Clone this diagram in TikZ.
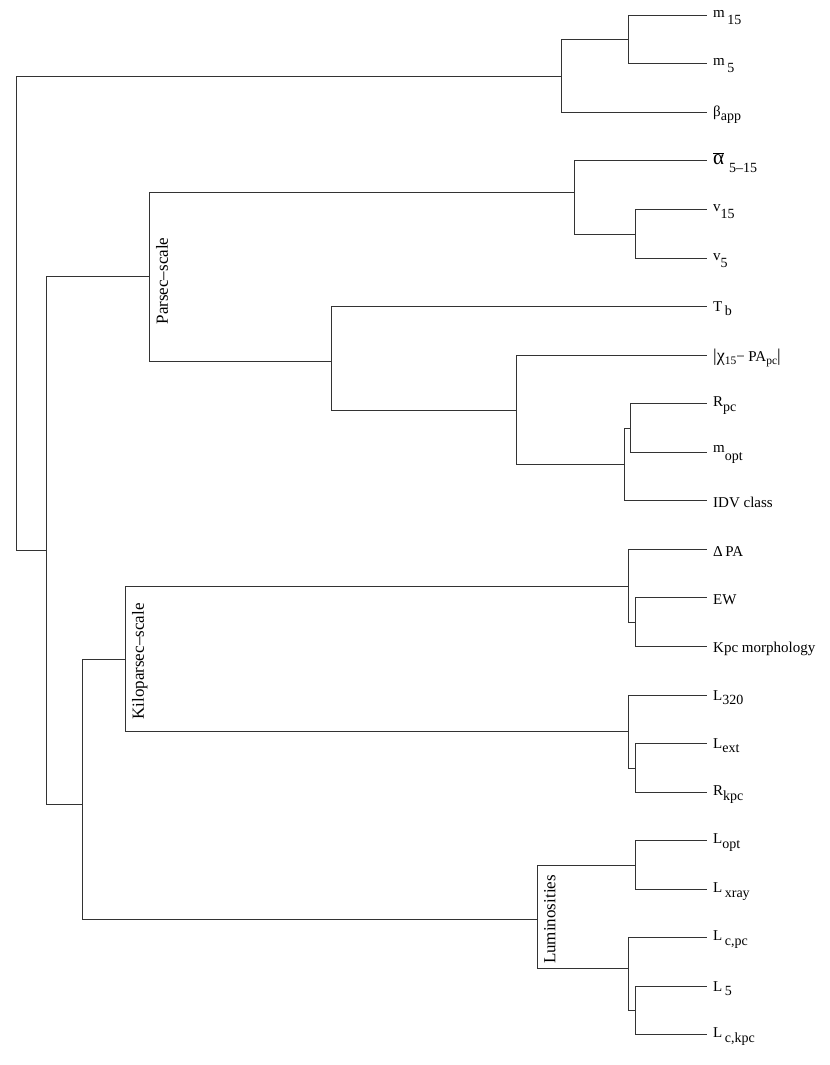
\documentclass[tikz,border=0pt]{standalone}
\usepackage{fontspec}
\setmainfont{Liberation Serif}
% subscript after a lowercase base (deeper drop) and after a capital base
\newcommand{\sbl}[1]{\raisebox{-0.5em}{\fontsize{14bp}{14bp}\selectfont #1}}
\newcommand{\sbs}[1]{\raisebox{-0.3em}{\fontsize{14bp}{14bp}\selectfont #1}}
\newcommand{\sbt}[1]{\raisebox{-0.2em}{\fontsize{11.5bp}{11.5bp}\selectfont #1}}
\begin{document}
\begin{tikzpicture}[x=1bp,y=-1bp,
  edge/.style={line width=1.7bp, draw=black!80},
  leaflab/.style={anchor=west, inner sep=0pt, yshift=-2bp, font=\fontsize{15bp}{15bp}\selectfont},
  grouplab/.style={rotate=90, anchor=north, inner sep=6.5bp, font=\fontsize{17bp}{17bp}\selectfont}]
\useasboundingbox (0,0) rectangle (830,1065);
% leaves
\def\lx{706.5}
\coordinate (m15) at (\lx,15.5);
\coordinate (m5) at (\lx,63.5);
\coordinate (beta) at (\lx,112.5);
\coordinate (alpha) at (\lx,160.5);
\coordinate (v15) at (\lx,209.5);
\coordinate (v5) at (\lx,258.5);
\coordinate (tb) at (\lx,306.5);
\coordinate (chi) at (\lx,355.5);
\coordinate (rpc) at (\lx,403.5);
\coordinate (mopt) at (\lx,452.5);
\coordinate (idv) at (\lx,500.5);
\coordinate (dpa) at (\lx,549.5);
\coordinate (ew) at (\lx,597.5);
\coordinate (kpc) at (\lx,646.5);
\coordinate (l320) at (\lx,695.5);
\coordinate (lext) at (\lx,743.5);
\coordinate (rkpc) at (\lx,792.5);
\coordinate (lopt) at (\lx,840.5);
\coordinate (lxray) at (\lx,889.5);
\coordinate (lcpc) at (\lx,937.5);
\coordinate (l5) at (\lx,986.5);
\coordinate (lckpc) at (\lx,1034.5);
% internal nodes
\coordinate (mm) at (628.5,39.5);
\coordinate (top) at (561.5,76.5);
\coordinate (vv) at (635.5,234.5);
\coordinate (av) at (574.5,192.5);
\coordinate (rm) at (630.5,428.5);
\coordinate (rmi) at (624.5,464.5);
\coordinate (chig) at (516.5,410.5);
\coordinate (tbg) at (331.5,361.5);
\coordinate (parsec) at (149.5,276.5);
\coordinate (ek) at (635.5,622.5);
\coordinate (dpag) at (628.5,586.5);
\coordinate (lr) at (635.5,768.5);
\coordinate (l320g) at (628.5,731.5);
\coordinate (kilo) at (125.5,659.5);
\coordinate (lxg) at (635.5,865.5);
\coordinate (l5g) at (635.5,1010.5);
\coordinate (lcg) at (628.5,968.5);
\coordinate (lum) at (537.5,919.5);
\coordinate (C) at (82.5,804.5);
\coordinate (B) at (46.5,550.5);
\coordinate (root) at (16.5,313.5);
% edges
\draw[edge] (mm) |- (m15) (mm) |- (m5);
\draw[edge] (top) |- (mm) (top) |- (beta);
\draw[edge] (vv) |- (v15) (vv) |- (v5);
\draw[edge] (av) |- (alpha) (av) |- (vv);
\draw[edge] (rm) |- (rpc) (rm) |- (mopt);
\draw[edge] (rmi) |- (rm) (rmi) |- (idv);
\draw[edge] (chig) |- (chi) (chig) |- (rmi);
\draw[edge] (tbg) |- (tb) (tbg) |- (chig);
\draw[edge] (parsec) |- (av) (parsec) |- (tbg);
\draw[edge] (ek) |- (ew) (ek) |- (kpc);
\draw[edge] (dpag) |- (dpa) (dpag) |- (ek);
\draw[edge] (lr) |- (lext) (lr) |- (rkpc);
\draw[edge] (l320g) |- (l320) (l320g) |- (lr);
\draw[edge] (kilo) |- (dpag) (kilo) |- (l320g);
\draw[edge] (lxg) |- (lopt) (lxg) |- (lxray);
\draw[edge] (l5g) |- (l5) (l5g) |- (lckpc);
\draw[edge] (lcg) |- (lcpc) (lcg) |- (l5g);
\draw[edge] (lum) |- (lxg) (lum) |- (lcg);
\draw[edge] (C) |- (kilo) (C) |- (lum);
\draw[edge] (B) |- (parsec) (B) |- (C);
\draw[edge] (root) |- (top) (root) |- (B);
% leaf labels
\node[leaflab] (t-m15) at ([xshift=6.5bp]m15) {m\,\sbl{15}};
\node[leaflab] (t-m5) at ([xshift=6.5bp]m5) {m\,\sbl{5}};
\node[leaflab] (t-beta) at ([xshift=6.5bp]beta) {β\sbs{app}};
\node[leaflab] (t-alpha) at ([xshift=6.5bp]alpha) {{\fontsize{21bp}{21bp}\selectfont$\overline{\hbox{α}}$}\,\,\sbl{5–15}};
\node[leaflab] (t-v15) at ([xshift=6.5bp]v15) {v\sbl{15}};
\node[leaflab] (t-v5) at ([xshift=6.5bp]v5) {v\sbl{5}};
\node[leaflab] (t-tb) at ([xshift=6.5bp]tb) {T\,\sbs{b}};
\node[leaflab] (t-chi) at ([xshift=6.5bp]chi) {{\fontsize{18bp}{18bp}\selectfont |χ}\sbt{15}− PA\sbt{pc}{\fontsize{18bp}{18bp}\selectfont |}};
\node[leaflab] (t-rpc) at ([xshift=6.5bp]rpc) {R\sbs{pc}};
\node[leaflab] (t-mopt) at ([xshift=6.5bp]mopt) {m\sbl{opt}};
\node[leaflab] (t-idv) at ([xshift=6.5bp]idv) {IDV class};
\node[leaflab] (t-dpa) at ([xshift=6.5bp]dpa) {Δ\,PA};
\node[leaflab] (t-ew) at ([xshift=6.5bp]ew) {EW};
\node[leaflab] (t-kpc) at ([xshift=6.5bp]kpc) {Kpc morphology};
\node[leaflab] (t-l320) at ([xshift=6.5bp]l320) {L\sbs{320}};
\node[leaflab] (t-lext) at ([xshift=6.5bp]lext) {L\sbs{ext}};
\node[leaflab] (t-rkpc) at ([xshift=6.5bp]rkpc) {R\sbs{kpc}};
\node[leaflab] (t-lopt) at ([xshift=6.5bp]lopt) {L\sbs{opt}};
\node[leaflab] (t-lxray) at ([xshift=6.5bp]lxray) {L\,\sbs{xray}};
\node[leaflab] (t-lcpc) at ([xshift=6.5bp]lcpc) {L\,\sbs{c,pc}};
\node[leaflab] (t-l5) at ([xshift=6.5bp]l5) {L\,\sbs{5}};
\node[leaflab] (t-lckpc) at ([xshift=6.5bp]lckpc) {L\,\sbs{c,kpc}};
% group labels
\node[grouplab] (g-parsec) at ([yshift=-4.5bp]parsec) {Parsec–scale};
\node[grouplab] (g-kilo) at ([yshift=-2bp]kilo) {Kiloparsec–scale};
\node[grouplab] (g-lum) at (lum) {Luminosities};
\end{tikzpicture}
\end{document}
